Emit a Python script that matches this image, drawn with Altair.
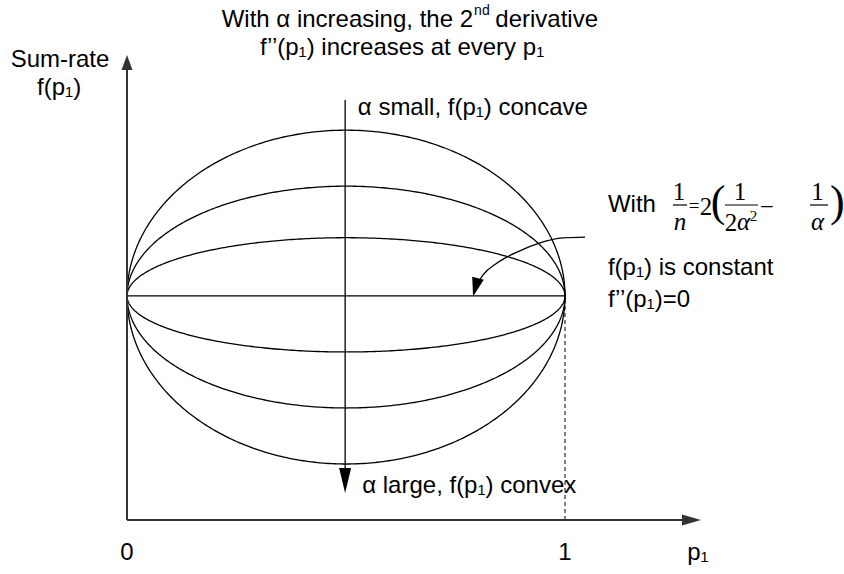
import altair as alt
import numpy as np
import pandas as pd

# ---------------------------------------------------------------- data
# Family of sum-rate curves f(p1): offset of each curve's mid-point (p1 = 0.5)
# from the constant level, ordered from small alpha (concave) to large alpha (convex)
curve_ids = ["c1", "c2", "c3", "c4", "c5", "c6", "c7"]
mid_offsets = [0.74, 0.49, 0.26, 0.0, -0.25, -0.50, -0.75]
constant_level = 1.0

p1_tick_values = [0.0, 1.0]
p1_tick_labels = ["0", "1"]

# ---------------------------------------------------------------- layout
WIDTH, HEIGHT = 844, 574
X_DOMAIN = [-0.290, 1.637]
Y_DOMAIN = [-0.241, 2.321]
SANS = "Liberation Sans"
SERIF = "Liberation Serif"
AXIS_GREY = "#333333"
FS = 24          # annotation text size
FS_MATH = 25     # formula text size

x_scale = alt.Scale(domain=X_DOMAIN, nice=False, zero=False)
y_scale = alt.Scale(domain=Y_DOMAIN, nice=False, zero=False)


def X(field="p"):
    return alt.X(f"{field}:Q", scale=x_scale, axis=None)


def Y(field="f"):
    return alt.Y(f"{field}:Q", scale=y_scale, axis=None)


# ---------------------------------------------------------------- curves
t = np.linspace(0.0, np.pi, 241)
curve_rows = []
for cid, off in zip(curve_ids, mid_offsets):
    for ti in t:
        curve_rows.append({
            "curve": cid,
            "k": float(ti),
            "p": float((1 - np.cos(ti)) / 2),
            "f": float(constant_level + off * np.sin(ti)),
        })
curves = alt.Chart(pd.DataFrame(curve_rows)).mark_line(
    color="black", strokeWidth=1.3
).encode(x=X(), y=Y(), detail="curve:N", order="k:Q")

# ---------------------------------------------------------------- axes
axes_df = pd.DataFrame([
    {"p": 0.0, "f": 0.0, "p2": 0.0, "f2": 2.027},     # f(p1) axis
    {"p": 0.0, "f": 0.0, "p2": 1.276, "f2": 0.0},     # p1 axis
])
axes = alt.Chart(axes_df).mark_rule(color=AXIS_GREY, strokeWidth=2).encode(
    x=X(), y=Y(), x2="p2:Q", y2="f2:Q"
)

# p1 = 1 drop line
drop_df = pd.DataFrame([{"p": 1.0, "f": 0.0, "p2": 1.0, "f2": constant_level}])
drop = alt.Chart(drop_df).mark_rule(
    color="black", strokeWidth=1, strokeDash=[4, 3]
).encode(x=X(), y=Y(), x2="p2:Q", y2="f2:Q")

# direction of increasing alpha
alpha_df = pd.DataFrame([{"p": 0.498, "f": 1.875, "p2": 0.498, "f2": 0.214}])
alpha_line = alt.Chart(alpha_df).mark_rule(color="black", strokeWidth=1.3).encode(
    x=X(), y=Y(), x2="p2:Q", y2="f2:Q"
)

# curved pointer to the constant curve
pointer_df = pd.DataFrame({
    "p": [0.8037, 0.8128, 0.8447, 0.8904, 0.9429, 0.9954, 1.0457],
    "f": [1.067, 1.094, 1.147, 1.196, 1.237, 1.259, 1.263],
})
pointer = alt.Chart(pointer_df).mark_line(
    color="black", strokeWidth=1.3, interpolate="monotone"
).encode(x=X(), y=Y())

# arrow heads
heads_df = pd.DataFrame([
    {"p": 0.0, "f": 2.0424, "path": "M0,-1L0.73,1L-0.73,1Z", "size": 225, "angle": 0, "color": AXIS_GREY},
    {"p": 1.2888, "f": 0.0, "path": "M0,-1L0.58,1L-0.58,1Z", "size": 361, "angle": 90, "color": AXIS_GREY},
    {"p": 0.498, "f": 0.1763, "path": "M0,-1L0.48,1L-0.48,1Z", "size": 625, "angle": 180, "color": "black"},
    {"p": 0.7957, "f": 1.038, "path": "M0,-1L0.63,1L-0.63,1Z", "size": 361, "angle": 195, "color": "black"},
])
heads = alt.Chart(heads_df).mark_point(filled=True, opacity=1, strokeWidth=0).encode(
    x=X(), y=Y(),
    shape=alt.Shape("path:N", scale=None),
    size=alt.Size("size:Q", scale=None),
    angle=alt.Angle("angle:Q", scale=None),
    color=alt.Color("color:N", scale=None),
)


# ---------------------------------------------------------------- text
def text_layer(rows, **mark):
    style = dict(font=SANS, fontSize=FS, color="black", baseline="middle")
    style.update(mark)
    return alt.Chart(pd.DataFrame(rows)).mark_text(**style).encode(
        x=X(), y=Y(), text="label:N"
    )


sans_center = text_layer([
    {"p": -0.153, "f": 2.054, "label": "Sum-rate"},
    {"p": -0.155, "f": 1.929, "label": "f(p₁)"},
    {"p": 0.628, "f": 2.107, "label": "f’’(p₁) increases at every p₁"},
] + [
    {"p": v, "f": -0.147, "label": s} for v, s in zip(p1_tick_values, p1_tick_labels)
], align="center")

sans_left = text_layer([
    {"p": 0.527, "f": 1.839, "label": "α small, f(p₁) concave"},
    {"p": 1.098, "f": 1.406, "label": "With"},
    {"p": 1.098, "f": 1.125, "label": "f(p₁) is constant"},
    {"p": 1.098, "f": 0.982, "label": "f’’(p₁)=0"},
    {"p": 0.537, "f": 0.152, "label": "α large, f(p₁) convex"},
    {"p": 1.279, "f": -0.147, "label": "p₁"},
], align="left")

# title line 1, with a raised ordinal suffix
title_a = text_layer([{"p": 0.790, "f": 2.232, "label": "With α increasing, the 2"}], align="right")
title_b = text_layer([{"p": 0.7925, "f": 2.270, "label": "nd"}], align="left", fontSize=14)
title_c = text_layer([{"p": 0.8409, "f": 2.232, "label": "derivative"}], align="left")

# formula 1/n = 2(1/(2a^2) - 1/a)
serif_up = text_layer([
    {"p": 1.2603, "f": 1.462, "label": "1"},
    {"p": 1.3219, "f": 1.397, "label": "2"},
    {"p": 1.3995, "f": 1.462, "label": "1"},
    {"p": 1.379, "f": 1.327, "label": "2"},
    {"p": 1.461, "f": 1.397, "label": "−"},
    {"p": 1.5765, "f": 1.462, "label": "1"},
], font=SERIF, fontSize=FS_MATH, align="center")
serif_eq = text_layer([
    {"p": 1.2945, "f": 1.400, "label": "="},
], font=SERIF, fontSize=19, align="center")
serif_it = text_layer([
    {"p": 1.2626, "f": 1.330, "label": "n"},
    {"p": 1.4075, "f": 1.330, "label": "α"},
    {"p": 1.5765, "f": 1.330, "label": "α"},
], font=SERIF, fontSize=FS_MATH, fontStyle="italic", align="center")
serif_sup = text_layer([
    {"p": 1.4304, "f": 1.357, "label": "2"},
], font=SERIF, fontSize=15, align="center")
parens = text_layer([
    {"p": 1.3493, "f": 1.416, "label": "("},
    {"p": 1.622, "f": 1.416, "label": ")"},
], font=SERIF, fontSize=44, align="center")

bars_df = pd.DataFrame([
    {"p": 1.2466, "f": 1.406, "p2": 1.2785},
    {"p": 1.3653, "f": 1.406, "p2": 1.4406},
    {"p": 1.5594, "f": 1.406, "p2": 1.6005},
])
bars = alt.Chart(bars_df).mark_rule(color="black", strokeWidth=1.2).encode(
    x=X(), y=Y(), x2="p2:Q"
)

chart = alt.layer(
    curves, drop, alpha_line, pointer, axes, heads,
    sans_center, sans_left, title_a, title_b, title_c,
    serif_up, serif_eq, serif_it, serif_sup, parens, bars,
).properties(
    width=WIDTH, height=HEIGHT, padding=0, autosize="none", background="white"
).configure_view(stroke=None)

chart.save("out.html", embed_options={"renderer": "svg", "actions": False})
